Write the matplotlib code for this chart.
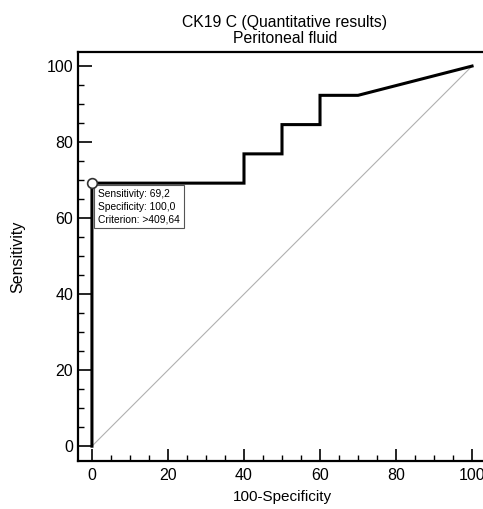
import matplotlib
matplotlib.use("Agg")
import matplotlib.pyplot as plt
from matplotlib.ticker import MultipleLocator

plt.rcParams['font.family'] = ['Liberation Sans', 'DejaVu Sans']

fpr = [0, 0, 40, 40, 50, 50, 60, 60, 70, 100]
tpr = [0, 69.2, 69.2, 76.9, 76.9, 84.6, 84.6, 92.3, 92.3, 100]
cut_x, cut_y = 0, 69.2
box_lines = ["Sensitivity: 69,2", "Specificity: 100,0", "Criterion: >409,64"]
title = "CK19 C (Quantitative results)\nPeritoneal fluid"

fig = plt.figure(figsize=(4.83, 5.09), dpi=100)
ax = fig.add_axes([77.5/483, 48/509, (486.5-77.5)/483, (461-52)/509])

ax.plot([0, 100], [0, 100], color='#b0b0b0', lw=0.8, zorder=1)
ax.plot(fpr, tpr, color='black', lw=2.2, solid_joinstyle='miter', zorder=2)
ax.plot([cut_x], [cut_y], 'o', ms=7, mfc='white', mec='#333333', mew=1.2, zorder=4)
ax.text(cut_x + 1.6, cut_y - 1.6, "\n".join(box_lines), fontsize=7.4, va='top', ha='left',
        linespacing=1.3, zorder=3,
        bbox=dict(boxstyle='square,pad=0.38', fc='white', ec='#555555', lw=0.8))

ax.set_xlim(-3.8, 103.8)
ax.set_ylim(-3.9, 103.7)
ax.xaxis.set_major_locator(MultipleLocator(20))
ax.xaxis.set_minor_locator(MultipleLocator(5))
ax.yaxis.set_major_locator(MultipleLocator(20))
ax.yaxis.set_minor_locator(MultipleLocator(5))
ax.tick_params(axis='x', which='major', direction='in', length=8.5, width=1.2, labelsize=11.5, pad=5)
ax.tick_params(axis='y', which='major', direction='in', length=10, width=1.2, labelsize=11.5, pad=3)
ax.tick_params(axis='both', which='minor', direction='in', length=4.5, width=1.0)
for s in ax.spines.values():
    s.set_linewidth(1.6)

ax.set_xlabel("100-Specificity", fontsize=11, labelpad=5)
ax.set_ylabel("Sensitivity", fontsize=11.5, labelpad=10)
ax.yaxis.set_label_coords(-52.5/409, 0.5)
fig.text(285/483, 1 - 30.5/509, title, ha='center', va='center', fontsize=11.3, linespacing=1.15)

fig.savefig("out.png", dpi=100)
